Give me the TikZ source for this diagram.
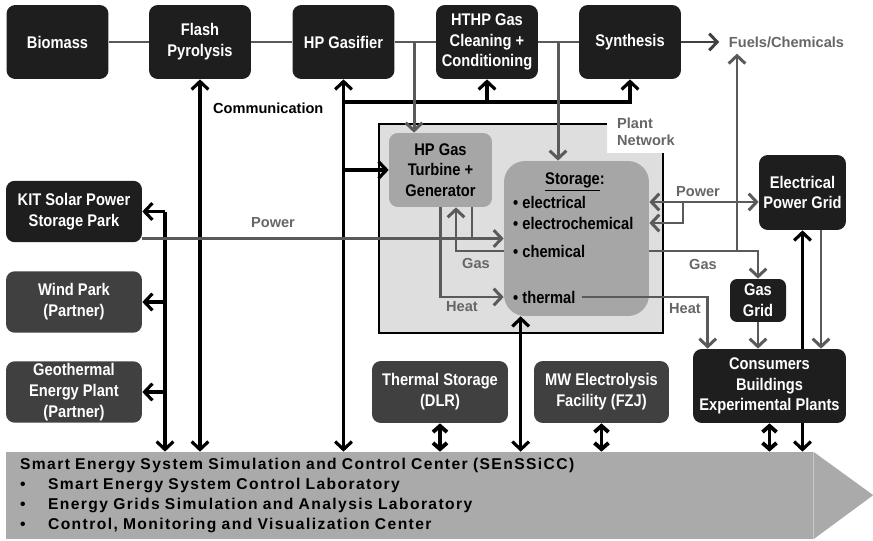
\documentclass[tikz,border=0pt]{standalone}
\usepackage{fontspec}
\setmainfont{Liberation Sans}
\newfontfamily\boxfont[FakeStretch=0.87]{Liberation Sans}
\newfontfamily\sscfont[LetterSpace=9]{Liberation Sans}
\usetikzlibrary{calc, arrows.meta}

\definecolor{boxblack}{HTML}{1E1E1E}
\definecolor{darkbox}{HTML}{404040}
\definecolor{midbox}{HTML}{A6A6A6}
\definecolor{plantfill}{HTML}{DEDEDE}
\definecolor{sscgray}{HTML}{AAAAAA}
\definecolor{lblgray}{HTML}{666666}
\definecolor{arrgray}{HTML}{5A5A5A}

\tikzset{
  barb/.tip={Straight Barb[length=4.5pt,width=9.5pt]},
  minibarb/.tip={Straight Barb[length=3.5pt,width=8pt]},
  box/.style={rounded corners=5pt, inner sep=0pt, align=center,
    font=\boxfont\bfseries\fontsize{9.6}{11.8}\selectfont},
  blkbox/.style={box, fill=boxblack, text=white},
  dgbox/.style={box, fill=darkbox, text=white},
  lgbox/.style={box, fill=midbox, text=black},
  topbox/.style={blkbox, minimum width=2.04cm, minimum height=1.48cm},
  sidebox/.style={minimum width=2.72cm, minimum height=1.23cm},
  sttxt/.style={font=\boxfont\bfseries\fontsize{9.6}{11.8}\selectfont},
  lbl/.style={font=\bfseries\fontsize{8.3}{9.7}\selectfont, text=lblgray},
  gline/.style={draw=arrgray, line width=1.7pt},
  garr/.style={gline, -barb},
  gboth/.style={gline, barb-barb},
  bline/.style={draw=black, line width=1.8pt},
  barr/.style={bline, -barb},
  bboth/.style={bline, barb-barb},
  bshort/.style={draw=black, line width=2.2pt, minibarb-minibarb},
}

\begin{document}
\begin{tikzpicture}[x=0.02cm, y=-0.02cm]
\useasboundingbox (0,0) rectangle (873,541);

% plant network frame, open in the corner for its label
\fill[plantfill] (379,124) -- (607,124) -- (607,153) -- (663,153) -- (663,333) -- (379,333) -- cycle;
\draw[line width=1.1pt] (607,124) -- (379,124) -- (379,333) -- (663,333) -- (663,153);
\node (plnet) [lbl, anchor=north west, align=left] at (611,112) {Plant\\Network};

% process chain
\node (bio) [topbox] at (57.5,42) {Biomass};
\node (pyro) [topbox] at (200,42) {Flash\\Pyrolysis};
\node (gasif) [topbox] at (343.5,42) {HP Gasifier};
\node (clean) [topbox] at (487,42) {HTHP Gas\\Cleaning +\\Conditioning};
\node (synth) [topbox] at (630,42) {Synthesis};
\node (fuels) [lbl] at (786.5,42) {Fuels/Chemicals};

% partners on the left
\node (kit) [blkbox, sidebox] at (74,211.5) {KIT Solar Power\\Storage Park};
\node (wind) [dgbox, sidebox] at (74,302) {Wind Park\\(Partner)};
\node (geo) [dgbox, sidebox] at (74,392) {Geothermal\\Energy Plant\\(Partner)};

% plant network
\node (turb) [lgbox, minimum width=2.06cm, minimum height=1.48cm] at (440.5,170) {HP Gas\\Turbine +\\Generator};
\node (stor) [lgbox, rounded corners=12pt, minimum width=2.9cm, minimum height=3.1cm] at (576.5,238.5) {};
\node (stitle) [sttxt] at (575,182) {\underline{Storage}:};
\node (selec) [sttxt, anchor=west] at (507,202) {• electrical};
\node (sechem) [sttxt, anchor=west] at (507,223) {• electrochemical};
\node (schem) [sttxt, anchor=west] at (507,251) {• chemical};
\node (stherm) [sttxt, anchor=west] at (507,297) {• thermal};

% grids and consumers
\node (egrid) [blkbox, minimum width=1.74cm, minimum height=1.5cm] at (802.5,192.5) {Electrical\\Power Grid};
\node (ggrid) [blkbox, rounded corners=4pt, minimum width=1.12cm, minimum height=0.86cm] at (758,300.5) {Gas\\Grid};
\node (cons) [blkbox, minimum width=3.06cm, minimum height=1.48cm] at (769.5,386) {Consumers\\Buildings\\Experimental Plants};
\node (tstor) [dgbox, minimum width=2.72cm, minimum height=1.24cm] at (440,392) {Thermal Storage\\(DLR)};
\node (mw) [dgbox, minimum width=2.7cm, minimum height=1.24cm] at (601.5,392) {MW Electrolysis\\Facility (FZJ)};

% control center
\node (ssc) [fill=sscgray, minimum width=16.14cm, minimum height=1.74cm, inner xsep=0.28cm,
  text width=15.58cm, align=left, font=\sscfont\bfseries\fontsize{8.9}{11.4}\selectfont] at (409.5,495.5)
  {Smart Energy System Simulation and Control Center (SEnSSiCC)\\
   \makebox[0.56cm][l]{•}Smart Energy System Control Laboratory\\
   \makebox[0.56cm][l]{•}Energy Grids Simulation and Analysis Laboratory\\
   \makebox[0.56cm][l]{•}Control, Monitoring and Visualization Center};
\fill[sscgray] (ssc.north east) -- ++(60,43.5) -- (ssc.south east) -- cycle;

\coordinate (lb) at (165,0);
\coordinate (cb) at (0,102);
\coordinate (fj) at (737,0);
\coordinate (pj) at (683,0);

% communication
\draw[bline] (lb |- kit.east) -- (lb |- geo.east);
\draw[barr] (lb |- geo.east) -- (lb |- ssc.north);
\draw[barr] (lb |- kit.east) -- (kit.east);
\draw[barr] (lb |- wind.east) -- (wind.east);
\draw[barr] (lb |- geo.east) -- (geo.east);
\draw[bboth] (pyro.south) -- (pyro.south |- ssc.north);
\draw[bboth] (gasif.south) -- (gasif.south |- ssc.north);
\draw[barr] (gasif.south |- cb) -| (synth.south);
\draw[barr] (clean.south |- cb) -- (clean.south);
\draw[barr] (gasif.south |- turb.west) -- (turb.west);
\node (comm) [lbl, text=black, anchor=west] at (207,108) {Communication};
\draw[bboth] ([xshift=0.34cm]stor.south west) -- ([xshift=0.34cm]stor.south west |- ssc.north);
\draw[bshort] (tstor.south) -- (tstor.south |- ssc.north);
\draw[bshort] (mw.south) -- (mw.south |- ssc.north);
\draw[bshort] (cons.south) -- (cons.south |- ssc.north);
\draw[barr] (egrid.south |- cons.north) -- (egrid.south);
\draw[barr] (egrid.south |- cons.south) -- (egrid.south |- ssc.north);

% material and energy flows
\draw[gline] (bio) -- (pyro) -- (gasif) -- (clean) -- (synth);
\draw[draw=darkbox, line width=1.7pt, -barb, shorten >=2pt] (synth) -- (fuels);
\draw[garr] ([xshift=-0.53cm]turb.north |- gasif.east) -- ([xshift=-0.53cm]turb.north);
\draw[garr] ([xshift=-0.37cm]stor.north |- synth.west) -- ([xshift=-0.37cm]stor.north);
\draw[garr] (kit.east |- stor.west) -- (stor.west);
\draw[gline] ([xshift=0.63cm]turb.south) -- ([xshift=0.63cm]turb.south |- stor.west);
\draw[garr] (stor.west |- schem) -| ([xshift=0.31cm]turb.south);
\draw[garr] (turb.south) |- (stor.west |- stherm);
\draw[gboth] (stor.east |- selec) -- (egrid.west |- selec);
\draw[garr] (pj |- selec) |- (stor.east |- sechem);
\draw[garr] (stor.east |- schem) -| (ggrid.north);
\draw[garr] (fj |- schem) -- (fj |- fuels.south);
\draw[garr] (stherm.east) -| ([xshift=0.3cm]cons.north west);
\draw[garr] (ggrid.south) -- (ggrid.south |- cons.north);
\draw[garr] ([xshift=0.37cm]egrid.south) -- ([xshift=0.37cm]egrid.south |- cons.north);

% flow labels
\node (pwl) [lbl] at (273,223) {Power};
\node (gasl) [lbl] at (476,263) {Gas};
\node (heatl) [lbl] at (462,307) {Heat};
\node (pwr) [lbl] at (698,192) {Power};
\node (gasr) [lbl] at (703,264) {Gas};
\node (heatr) [lbl] at (685,309) {Heat};
\end{tikzpicture}
\end{document}
